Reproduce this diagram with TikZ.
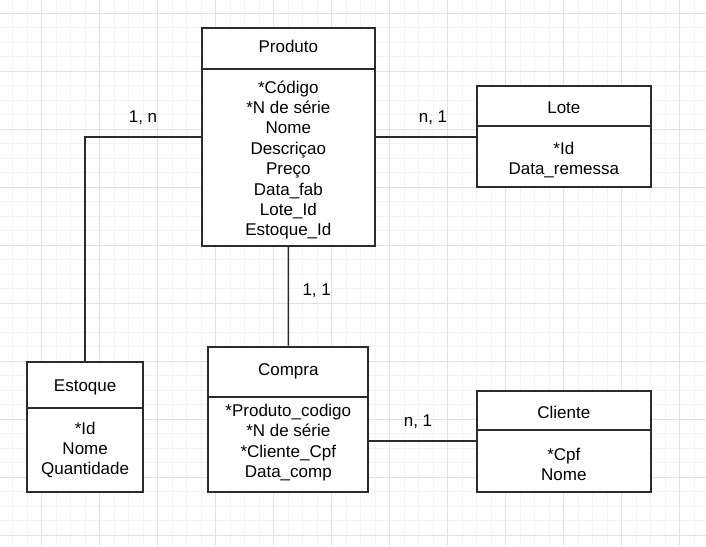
\documentclass[tikz,border=0pt]{standalone}
\usepackage{fontspec}
\setmainfont{Liberation Sans}
\usetikzlibrary{fit}
\definecolor{gminor}{HTML}{F4F4F4}
\definecolor{gmajor}{HTML}{E2E2E2}
\definecolor{edge}{HTML}{2B2B2B}
\begin{document}
\begin{tikzpicture}[x=0.75pt,y=-0.75pt,
  box/.style={draw=edge,line width=1.5pt,fill=white,inner sep=0pt},
  divider/.style={draw=edge,line width=1.5pt},
  conn/.style={draw=edge,line width=1.2pt},
  txt/.style={font=\fontsize{12.75}{15.3}\selectfont,text=black,inner sep=0pt,align=center},
  lbl/.style={font=\fontsize{12.75}{15.3}\selectfont,text=black,inner sep=0pt}]
\useasboundingbox (0,0) rectangle (706,546);
\fill[white] (0,0) rectangle (706,546);
\begin{scope}
\clip (0,0) rectangle (706,546);
\foreach \i in {-3,...,47} \draw[gminor,line width=0.75pt] ({41.7+14.5*\i},0) -- ({41.7+14.5*\i},546);
\foreach \j in {-1,...,38} \draw[gminor,line width=0.75pt] (0,{13.3+14.5*\j}) -- (706,{13.3+14.5*\j});
\foreach \i in {-1,0,...,12} \draw[gmajor,line width=0.75pt] ({41.7+58*\i},0) -- ({41.7+58*\i},546);
\foreach \j in {0,...,10} \draw[gmajor,line width=0.75pt] (0,{13.3+58*\j}) -- (706,{13.3+58*\j});
\end{scope}

% Produto
\node[box,fit={(201.7,28) (375,245.7)}] (produto) {};
\draw[divider] (201.7,68.7) -- (375,68.7);
\node[txt] (produtoT) at (288.35,46.5) {Produto};
\node[txt] (produtoA) at (288.35,160) {*Código\\*N de série\\Nome\\Descriçao\\Preço\\Data\_fab\\Lote\_Id\\Estoque\_Id};

% Lote
\node[box,fit={(476.7,86) (651,187.3)}] (lote) {};
\draw[divider] (476.7,125.7) -- (651,125.7);
\node[txt] (loteT) at (563.85,107.5) {Lote};
\node[txt] (loteA) at (563.85,160) {*Id\\Data\_remessa};

% Estoque
\node[box,fit={(27,361.7) (143.3,492)}] (estoque) {};
\draw[divider] (27,408.3) -- (143.3,408.3);
\node[txt] (estoqueT) at (85.15,387.5) {Estoque};
\node[txt] (estoqueA) at (85.15,450) {*Id\\Nome\\Quantidade};

% Compra
\node[box,fit={(208.3,346.7) (368.3,492)}] (compra) {};
\draw[divider] (208.3,396.7) -- (368.3,396.7);
\node[txt] (compraT) at (288.3,371) {Compra};
\node[txt] (compraA) at (288.3,442.5) {*Produto\_codigo\\*N de série\\*Cliente\_Cpf\\Data\_comp};

% Cliente
\node[box,fit={(476.7,390.7) (651,491.7)}] (cliente) {};
\draw[divider] (476.7,430.3) -- (651,430.3);
\node[txt] (clienteT) at (563.85,412.5) {Cliente};
\node[txt] (clienteA) at (563.85,464.5) {*Cpf\\Nome};

% Connectors
\draw[conn] (produto.east) -- (produto.east -| lote.west);
\draw[conn] (estoque.north) |- (produto.west);
\draw[conn] (produto.south) -- (compra.north);
\draw[conn] (compra.east |- cliente.west) -- (cliente.west);

% Labels
\node[lbl] (l1) at (143,117.5) {1, n};
\node[lbl] (l2) at (433,117.5) {n, 1};
\node[lbl] (l3) at (316.7,290.5) {1, 1};
\node[lbl] (l4) at (418,422) {n, 1};
\end{tikzpicture}
\end{document}
